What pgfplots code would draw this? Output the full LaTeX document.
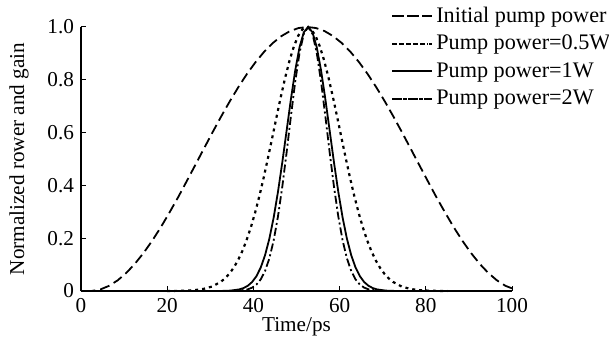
\documentclass[border=0pt]{standalone}
\usepackage{pgfplots}
\pgfplotsset{compat=1.18}
\usepackage{fontspec}
\setmainfont{Liberation Serif}
\begin{document}
\begin{tikzpicture}
\begin{axis}[
  scale only axis,
  width=215.5pt, height=132pt,
  xmin=0, xmax=100, ymin=0, ymax=1,
  axis x line=bottom, axis y line=left,
  axis line style={-, line width=0.8pt},
  xtick={0,20,40,60,80,100},
  ytick={0,0.2,0.4,0.6,0.8,1.0},
  yticklabels={0,0.2,0.4,0.6,0.8,1.0},
  tick align=inside,
  major tick length=2.5pt,
  tick style={line width=0.5pt, black},
  /pgf/number format/assume math mode=true,
  ticklabel style={font=\fontsize{10.6}{12}\selectfont},
  label style={font=\fontsize{10.6}{12}\selectfont},
  xlabel={Time/ps},
  ylabel={Normalized rower and gain},
  xlabel style={at={(axis description cs:0.5,-0.137)}, anchor=center},
  ylabel style={at={(axis description cs:-0.144,0.5)}, anchor=center},
  clip=false,
  legend style={at={(1,1)}, anchor=north east, xshift=54pt, yshift=14.4pt,
    draw=none, fill=none, font=\fontsize{11.1}{12}\selectfont,
    row sep=0.9pt, legend cell align=left, nodes={inner xsep=1.6pt}},
  legend image code/.code={\path (0pt,0pt) -- (19pt,0pt);\draw[#1] (-1pt,0pt) -- (17pt,0pt);},
]
\coordinate (bl) at (rel axis cs:0,0);
\coordinate (tr) at (rel axis cs:1,1);
\addplot[black, line width=0.9pt, dash pattern=on 5pt off 2.5pt] coordinates {
(1,0) (2.5,0.0002) (4.5,0.006) (6.5,0.0195) (8.5,0.0403) (10.5,0.0683) (12.5,0.1029) (14.5,0.1437) (16.5,0.1900) (18.5,0.2410) (20.5,0.2965) (22.5,0.3541) (24.5,0.4151) (26.5,0.4767) (28.5,0.5388) (30.5,0.6005) (32.5,0.6605) (34.5,0.7179) (36.5,0.7721) (38.5,0.8221) (40.5,0.8670) (42.5,0.9063) (44.5,0.9393) (46.5,0.9655) (48.5,0.9846) (50.5,0.9961) (52.5,1) (54.5,0.9961) (56.5,0.9846) (58.5,0.9655) (60.5,0.9393) (62.5,0.9063) (64.5,0.8670) (66.5,0.8221) (68.5,0.7721) (70.5,0.7179) (72.5,0.6605) (74.5,0.6005) (76.5,0.5388) (78.5,0.4767) (80.5,0.4151) (82.5,0.3541) (84.5,0.2965) (86.5,0.2410) (88.5,0.1900) (90.5,0.1437) (92.5,0.1029) (94.5,0.0683) (96.5,0.0403) (98.5,0.0195) (100,0.0100)
};
\addlegendentry{Initial pump power}
\addplot[black, line width=1.1pt, dash pattern=on 1.5pt off 2pt] coordinates {
(20,0) (22.4,0.0005) (24.4,0.0014) (26.4,0.0033) (28.4,0.0078) (30.4,0.0169) (32.4,0.0343) (33.4,0.0476) (34.4,0.0651) (35.4,0.0875) (36.4,0.1155) (37.4,0.1501) (38.4,0.1915) (39.4,0.2405) (40.4,0.2970) (41.4,0.3604) (42.4,0.4304) (43.4,0.5051) (44.4,0.5830) (45.4,0.6619) (46.4,0.7382) (47.4,0.8100) (48.4,0.8737) (49.4,0.9269) (50.4,0.9668) (51.4,0.9916) (52.4,1) (53.4,0.9916) (54.4,0.9668) (55.4,0.9269) (56.4,0.8737) (57.4,0.8100) (58.4,0.7382) (59.4,0.6619) (60.4,0.5830) (61.4,0.5051) (62.4,0.4304) (63.4,0.3604) (64.4,0.2970) (65.4,0.2405) (66.4,0.1915) (67.4,0.1501) (68.4,0.1155) (69.4,0.0875) (70.4,0.0651) (71.4,0.0476) (72.4,0.0343) (74.4,0.0169) (76.4,0.0078) (78.4,0.0033) (80.4,0.0014) (82.4,0.0005) (85,0)
};
\addlegendentry{Pump power=0.5W}
\addplot[black, line width=0.9pt] coordinates {
(30.7,0) (32.7,0.0003) (34.7,0.0015) (36.7,0.0060) (37.7,0.0111) (38.7,0.0198) (39.7,0.0340) (40.7,0.0561) (41.7,0.0889) (42.7,0.1353) (43.7,0.1979) (44.7,0.2780) (45.7,0.3753) (46.7,0.4868) (47.7,0.6065) (48.7,0.7261) (49.7,0.8353) (50.7,0.9231) (51.7,0.9802) (52.7,1) (53.7,0.9802) (54.7,0.9231) (55.7,0.8353) (56.7,0.7261) (57.7,0.6065) (58.7,0.4868) (59.7,0.3753) (60.7,0.2780) (61.7,0.1979) (62.7,0.1353) (63.7,0.0889) (64.7,0.0561) (65.7,0.0340) (66.7,0.0198) (67.7,0.0111) (68.7,0.0060) (70.7,0.0015) (72.7,0.0003) (74.7,0)
};
\addlegendentry{Pump power=1W}
\addplot[black, line width=0.9pt, dash pattern=on 4pt off 1.5pt on 1pt off 1.5pt] coordinates {
(34.7,0) (36.7,0.0013) (38.7,0.0063) (39.7,0.0127) (40.7,0.0243) (41.7,0.0439) (42.7,0.0756) (43.7,0.1234) (44.7,0.1915) (45.7,0.2821) (46.7,0.3946) (47.7,0.5243) (48.7,0.6615) (49.7,0.7926) (50.7,0.9019) (51.7,0.9745) (52.7,1) (53.7,0.9745) (54.7,0.9019) (55.7,0.7926) (56.7,0.6615) (57.7,0.5243) (58.7,0.3946) (59.7,0.2821) (60.7,0.1915) (61.7,0.1234) (62.7,0.0756) (63.7,0.0439) (64.7,0.0243) (65.7,0.0127) (66.7,0.0063) (68.7,0.0013) (70.7,0)
};
\addlegendentry{Pump power=2W}
\end{axis}
\pgfresetboundingbox
\path ([xshift=-40.5pt,yshift=-28.5pt]bl) rectangle ([xshift=48.5pt,yshift=13.5pt]tr);
\end{tikzpicture}
\end{document}
